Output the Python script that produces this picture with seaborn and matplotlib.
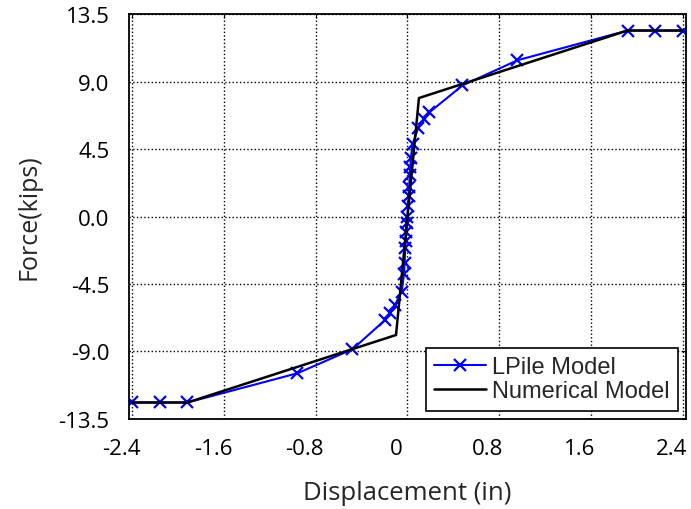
import pandas as pd
import seaborn as sns
import matplotlib.pyplot as plt
from matplotlib.transforms import ScaledTranslation

# LPile model points (displacement in, force kips)
lpile_disp = [-2.4, -2.16, -1.92, -0.96, -0.48, -0.2, -0.155, -0.11, -0.05,
              -0.03, -0.025, -0.02, -0.015, -0.01, -0.005, 0.0, 0.005, 0.01,
              0.015, 0.02, 0.025, 0.03, 0.045, 0.095, 0.147, 0.19, 0.48,
              0.96, 1.92, 2.16, 2.4]
lpile_force = [-12.4, -12.4, -12.4, -10.45, -8.85, -6.93, -6.46, -5.9, -5.0,
               -3.8, -3.1, -2.1, -1.6, -1.0, -0.4, 0.0, 0.7, 1.4,
               2.0, 2.8, 3.3, 3.9, 4.86, 5.93, 6.47, 6.94, 8.74,
               10.42, 12.4, 12.4, 12.4]

# Numerical model (piecewise linear)
num_disp = [-2.4, -1.92, -0.1, 0.1, 1.92, 2.4]
num_force = [-12.4, -12.4, -7.9, 7.9, 12.4, 12.4]

xticks = [-2.4, -1.6, -0.8, 0, 0.8, 1.6, 2.4]
xtick_labels = ["-2.4", "-1.6", "-0.8", "0", "0.8", "1.6", "2.4"]
yticks = [-13.5, -9.0, -4.5, 0.0, 4.5, 9.0, 13.5]

lp = pd.DataFrame({"disp": lpile_disp, "force": lpile_force})
nm = pd.DataFrame({"disp": num_disp, "force": num_force})

sns.set_style("white")
plt.rcParams['font.family'] = ['Open Sans', 'DejaVu Sans']

fig = plt.figure(figsize=(6.91, 5.10), dpi=100)
ax = fig.add_axes([0.1867, 0.1765, 0.806, 0.794])

sns.lineplot(data=lp, x="disp", y="force", sort=False, ax=ax, color="blue",
             linewidth=1.5, marker="x", markersize=8, markeredgewidth=1.6,
             markeredgecolor="blue", label="LPile Model", estimator=None)
sns.lineplot(data=nm, x="disp", y="force", sort=False, ax=ax, color="black",
             linewidth=1.8, label="Numerical Model", estimator=None)

ax.set_xlim(-2.43, 2.43)
ax.set_ylim(-13.5, 13.5)
ax.set_xticks(xticks)
ax.set_xticklabels(xtick_labels)
ax.set_yticks(yticks)
ax.set_yticklabels([f"{v:.1f}" for v in yticks])
ax.tick_params(direction="in", top=True, right=True, length=3, labelsize=16,
               colors="black")
ax.tick_params(axis="x", pad=14)
ax.tick_params(axis="y", pad=14)
# labels in the reference sit a little left of their ticks
shift = ScaledTranslation(-8 / 72, 0, fig.dpi_scale_trans)
for lab in ax.get_xticklabels():
    lab.set_transform(lab.get_transform() + shift)

ax.grid(True, color="black", linestyle=":", linewidth=1.0)
for s in ax.spines.values():
    s.set_color("black")
    s.set_linewidth(1.3)

ax.set_xlabel("Displacement (in)", fontsize=18.5, labelpad=15)
ax.set_ylabel("Force(kips)", fontsize=18, labelpad=12)

leg = ax.legend(loc="lower right", frameon=True, fancybox=False,
                framealpha=1, edgecolor="black", borderpad=0.35,
                borderaxespad=0.35, handlelength=2.2, handletextpad=0.25,
                labelspacing=0.1,
                prop={"family": "Liberation Sans", "size": 17})
leg.get_frame().set_linewidth(1.2)

fig.savefig("out.png", dpi=100)
